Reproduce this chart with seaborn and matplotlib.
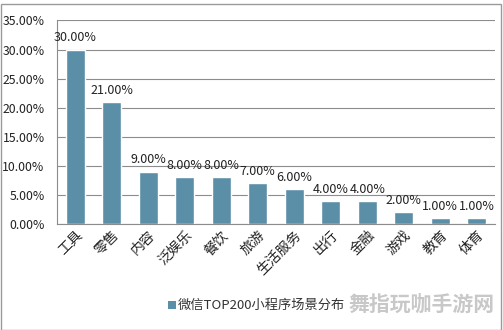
import matplotlib
matplotlib.use("Agg")
import matplotlib.pyplot as plt
import seaborn as sns
import pandas as pd
from matplotlib.ticker import FuncFormatter
from matplotlib.patches import Rectangle

# 微信TOP200小程序场景分布
categories = ["工具", "零售", "内容", "泛娱乐", "餐饮", "旅游", "生活服务", "出行", "金融", "游戏", "教育", "体育"]
shares = [30.0, 21.0, 9.0, 8.0, 8.0, 7.0, 6.0, 4.0, 4.0, 2.0, 1.0, 1.0]
series_name = "微信TOP200小程序场景分布"
y_ticks = [0, 5, 10, 15, 20, 25, 30, 35]

sns.set_theme(style="white")
plt.rcParams["font.family"] = ["Noto Sans CJK SC", "DejaVu Sans"]

bar_color = "#5B8FA8"
grid_color = "#8C8C8C"

df = pd.DataFrame({"场景": categories, "占比": shares})

W, H = 503, 330
fig = plt.figure(figsize=(W / 100, H / 100), dpi=100)
fig.patch.set_facecolor("white")
fig.patches.append(Rectangle((0.5 / W, 0.5 / H), (W - 3) / W, (H - 4) / H,
                             transform=fig.transFigure, fill=False,
                             edgecolor="#9A9A9A", linewidth=1.0))

left, right, top, bottom = 57, 495, 20.5, 224
ax = fig.add_axes([left / W, (H - bottom) / H, (right - left) / W, (bottom - top) / H])

sns.barplot(data=df, x="场景", y="占比", color=bar_color, saturation=1,
            width=0.52, ax=ax)

ax.set_ylim(0, 35)
ax.set_yticks(y_ticks)
ax.yaxis.set_major_formatter(FuncFormatter(lambda v, p: f"{v:.2f}%"))
ax.yaxis.grid(True, color=grid_color, linewidth=0.8)
ax.set_axisbelow(True)
ax.set_xlabel("")
ax.set_ylabel("")

for s in ["top", "right"]:
    ax.spines[s].set_visible(False)
for s in ["left", "bottom"]:
    ax.spines[s].set_color(grid_color)
    ax.spines[s].set_linewidth(0.8)

ax.tick_params(axis="both", length=0, colors="#222222")
ax.tick_params(axis="y", labelsize=8.8, pad=9)
ax.tick_params(axis="x", labelsize=10, pad=3)
for lbl in ax.get_xticklabels():
    lbl.set_rotation(45)
    lbl.set_ha("right")
    lbl.set_rotation_mode("anchor")

for i, v in enumerate(shares):
    ax.text(i, v + 0.9, f"{v:.2f}%", ha="center", va="bottom",
            fontsize=9, color="#222222")

# legend below the chart
fig.patches.append(Rectangle((168 / W, (H - 309) / H), 8 / W, 8 / H,
                             transform=fig.transFigure, facecolor=bar_color,
                             edgecolor="none"))
fig.text(178 / W, (H - 305) / H, series_name, ha="left", va="center",
         fontsize=9.5, color="#333333")

fig.text(495 / W, (H - 305) / H, "舞指玩咖手游网", ha="right", va="center",
         fontsize=15, fontweight="bold", color="#C8C8C8")

fig.savefig("out.png", dpi=100)
